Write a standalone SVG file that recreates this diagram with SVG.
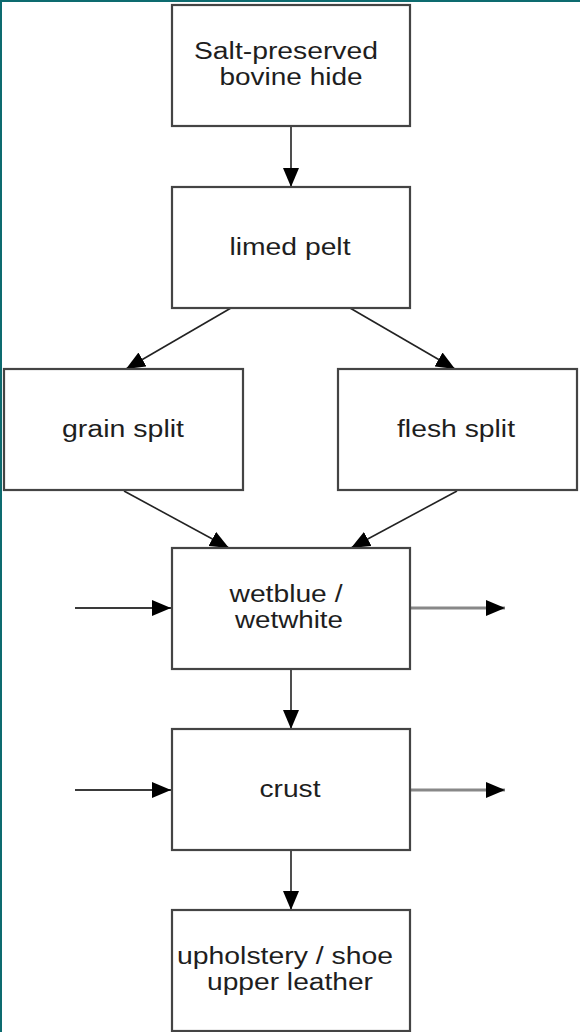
<svg xmlns="http://www.w3.org/2000/svg" width="580" height="1032" viewBox="0 0 580 1032">
  <defs>
    <style>
      .box { fill: #ffffff; stroke: #444444; stroke-width: 2.2; }
      .lbl { font-family: "Liberation Sans", Arial, sans-serif; font-size: 23px; fill: #1e1e1e; text-anchor: middle; }
      .edge { stroke: #222222; stroke-width: 1.6; fill: none; marker-end: url(#arrow); }
      .edge-in { stroke: #3a3a3a; stroke-width: 1.8; fill: none; marker-end: url(#arrow); }
      .edge-out { stroke: #888888; stroke-width: 3; fill: none; marker-end: url(#arrow); }
      .frame { stroke: #0d6b6f; stroke-width: 2; fill: none; }
    </style>
    <marker id="arrow" markerUnits="userSpaceOnUse" markerWidth="20" markerHeight="16" refX="19" refY="8" orient="auto">
      <path d="M0,0 L19,8 L0,16 z" fill="#000000"/>
    </marker>
  </defs>
  <rect x="0" y="0" width="580" height="1032" fill="#ffffff"/>
  <g id="frame">
    <line class="frame" x1="0" y1="1" x2="580" y2="1"/>
    <line class="frame" x1="1" y1="0" x2="1" y2="1032"/>
  </g>
  <g id="connectors">
    <line class="edge" x1="291" y1="126" x2="291" y2="187"/>
    <line class="edge" x1="231" y1="308" x2="126" y2="369"/>
    <line class="edge" x1="350" y1="308" x2="455" y2="369"/>
    <line class="edge" x1="124" y1="491" x2="229" y2="548"/>
    <line class="edge" x1="457" y1="491" x2="351" y2="548"/>
    <line class="edge-in" x1="75" y1="608" x2="171" y2="608"/>
    <line class="edge-out" x1="410" y1="608" x2="505" y2="608"/>
    <line class="edge" x1="291" y1="669" x2="291" y2="729"/>
    <line class="edge-in" x1="75" y1="790" x2="171" y2="790"/>
    <line class="edge-out" x1="410" y1="790" x2="505" y2="790"/>
    <line class="edge" x1="291" y1="850" x2="291" y2="910"/>
  </g>
  <g id="node-hide">
    <rect class="box" x="172" y="5" width="238" height="121"/>
    <text class="lbl" x="286" y="59" textLength="184" lengthAdjust="spacingAndGlyphs">Salt-preserved</text>
    <text class="lbl" x="291" y="85" textLength="143" lengthAdjust="spacingAndGlyphs">bovine hide</text>
  </g>
  <g id="node-limed">
    <rect class="box" x="172" y="187" width="238" height="121"/>
    <text class="lbl" x="290" y="255" textLength="121" lengthAdjust="spacingAndGlyphs">limed pelt</text>
  </g>
  <g id="node-grain">
    <rect class="box" x="4" y="369" width="239" height="121"/>
    <text class="lbl" x="123" y="437" textLength="122" lengthAdjust="spacingAndGlyphs">grain split</text>
  </g>
  <g id="node-flesh">
    <rect class="box" x="338" y="369" width="239" height="121"/>
    <text class="lbl" x="456" y="437" textLength="118" lengthAdjust="spacingAndGlyphs">flesh split</text>
  </g>
  <g id="node-wetblue">
    <rect class="box" x="172" y="548" width="238" height="121"/>
    <text class="lbl" x="286" y="602" textLength="113" lengthAdjust="spacingAndGlyphs">wetblue /</text>
    <text class="lbl" x="289" y="628" textLength="108" lengthAdjust="spacingAndGlyphs">wetwhite</text>
  </g>
  <g id="node-crust">
    <rect class="box" x="172" y="729" width="238" height="121"/>
    <text class="lbl" x="290" y="797" textLength="61" lengthAdjust="spacingAndGlyphs">crust</text>
  </g>
  <g id="node-leather">
    <rect class="box" x="172" y="910" width="238" height="121"/>
    <text class="lbl" x="285" y="964" textLength="216" lengthAdjust="spacingAndGlyphs">upholstery / shoe</text>
    <text class="lbl" x="290" y="990" textLength="166" lengthAdjust="spacingAndGlyphs">upper leather</text>
  </g>
</svg>
